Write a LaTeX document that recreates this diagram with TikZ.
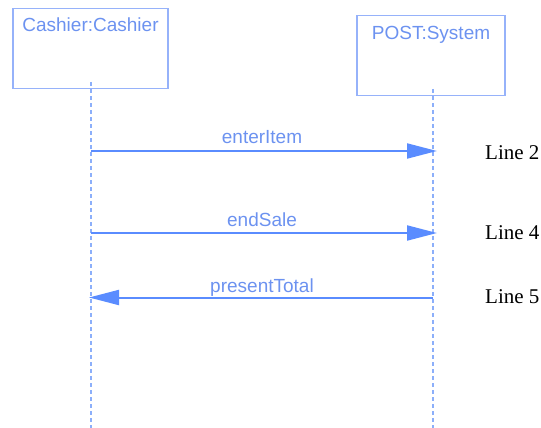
\documentclass[tikz,border=0pt]{standalone}
\usepackage{fontspec}
\setmainfont{Liberation Serif}
\setsansfont{Liberation Sans}
\usetikzlibrary{arrows.meta}
\definecolor{boxcol}{RGB}{150,178,250}
\definecolor{txtcol}{RGB}{108,146,240}
\definecolor{arrcol}{RGB}{90,140,255}
\definecolor{lifecol}{RGB}{140,175,250}
\tikzset{
  objbox/.style={draw=boxcol, line width=1.2pt, inner xsep=0pt, inner ysep=9.5pt,
    text height=14pt, font=\sffamily\fontsize{19}{22}\selectfont, text=txtcol},
  lifeline/.style={draw=lifecol, line width=1.3pt, dash pattern=on 4pt off 3pt},
  msg/.style={draw=arrcol, line width=2pt, -{Triangle[length=30pt,width=15pt]}},
  msglabel/.style={font=\sffamily\fontsize{19}{22}\selectfont, text=txtcol, anchor=base, inner sep=0pt},
  linelabel/.style={font=\rmfamily\fontsize{21}{24}\selectfont, anchor=base west, inner sep=0pt}
}
\begin{document}
\begin{tikzpicture}[x=1pt,y=-1pt]
\useasboundingbox (0,0) rectangle (541,428);
% objects
\node[objbox, minimum width=155pt, minimum height=80pt, text depth=46.5pt] (cashier) at (90.5,48.2) {Cashier:Cashier};
\node[objbox, minimum width=148pt, minimum height=79.5pt, text depth=46pt] (post) at (431,55.4) {POST:System};
% lifeline end points
\coordinate (ctop) at (91,82);
\coordinate (cbot) at (91,428);
\coordinate (ptop) at (433,89);
\coordinate (pbot) at (433,428);
\draw[lifeline] (ctop) -- (cbot);
\draw[lifeline] (ptop) -- (pbot);
% message anchor points
\coordinate (c1) at (91,151);
\coordinate (p1) at (433,151);
\coordinate (c2) at (91,233);
\coordinate (p2) at (433,233);
\coordinate (c3) at (91,297.5);
\coordinate (p3) at (433,297.5);
\draw[msg, shorten >=-4pt] (c1) -- node[msglabel, yshift=8pt] (m1) {enterItem} (p1);
\draw[msg, shorten >=-4pt] (c2) -- node[msglabel, yshift=7pt] (m2) {endSale} (p2);
\draw[msg, shorten >=-2pt] (p3) -- node[msglabel, yshift=5.5pt] (m3) {presentTotal} (c3);
% line labels
\node[linelabel] (l2) at (485,159) {Line 2};
\node[linelabel] (l4) at (485,239) {Line 4};
\node[linelabel] (l5) at (485,303) {Line 5};
\end{tikzpicture}
\end{document}
